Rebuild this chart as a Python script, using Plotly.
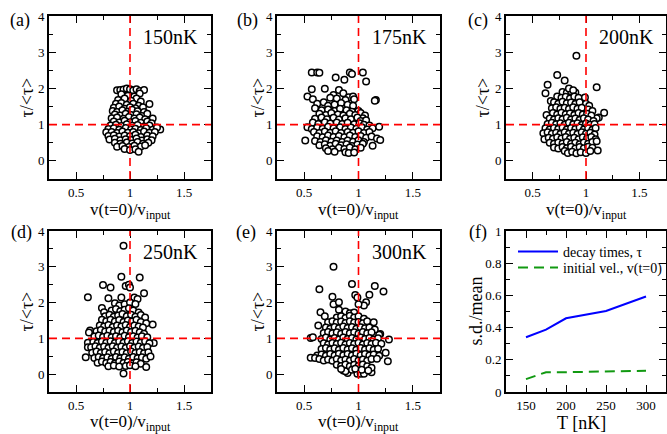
import plotly.graph_objects as go

# ---------------- data ----------------
PANEL_A = [(0.88,1.95),(0.91,1.96),(0.94,1.97),(0.97,2.0),(1.0,1.98),(1.03,1.95),(1.06,1.98),(1.09,1.93),(1.13,1.96),
 (0.92,1.84),(0.98,1.80),(1.04,1.78),(1.09,1.86),(1.06,1.72),(0.89,1.68),(0.95,1.72),(1.01,1.66),(1.1,1.64),
 (0.87,1.58),(0.92,1.60),(0.97,1.55),(1.03,1.58),(1.08,1.52),(1.18,1.57),(0.85,1.47),(0.9,1.50),(0.95,1.44),(1.0,1.48),(1.05,1.45),(1.12,1.48),
 (0.84,1.38),(0.88,1.35),(0.93,1.40),(0.98,1.36),(1.02,1.41),(1.07,1.37),(1.13,1.35),
 (0.86,1.28),(0.91,1.25),(0.96,1.30),(1.01,1.27),(1.06,1.29),(1.11,1.24),(1.16,1.30),
 (0.83,1.18),(0.88,1.20),(0.94,1.16),(0.99,1.21),(1.04,1.17),(1.09,1.20),(1.14,1.15),(1.21,1.17),
 (0.85,1.09),(0.9,1.06),(0.95,1.11),(1.0,1.07),(1.05,1.10),(1.1,1.05),(1.16,1.09),(1.2,1.04),
 (0.82,0.98),(0.87,1.00),(0.92,0.96),(0.97,1.01),(1.02,0.97),(1.07,0.99),(1.13,0.95),(1.18,0.98),
 (0.8,0.88),(0.85,0.90),(0.9,0.86),(0.96,0.91),(1.01,0.87),(1.05,0.89),(1.1,0.85),(1.15,0.90),(1.21,0.86),(1.28,0.87),(1.25,0.92),
 (0.78,0.79),(0.83,0.80),(0.88,0.77),(0.93,0.81),(0.98,0.78),(1.03,0.80),(1.08,0.76),(1.13,0.81),(1.18,0.78),(1.23,0.80),
 (0.8,0.69),(0.85,0.71),(0.9,0.67),(0.95,0.70),(1.0,0.68),(1.05,0.72),(1.1,0.66),(1.16,0.70),(1.21,0.68),
 (0.81,0.59),(0.86,0.61),(0.91,0.57),(0.96,0.60),(1.01,0.58),(1.06,0.62),(1.11,0.56),(1.16,0.60),(1.2,0.57),
 (0.86,0.50),(0.91,0.47),(0.97,0.51),(1.02,0.48),(1.07,0.52),(1.12,0.47),(1.17,0.50),
 (0.88,0.39),(0.93,0.41),(0.99,0.38),(1.04,0.42),(1.1,0.40),(1.14,0.43),(0.95,0.33),(1.0,0.30),(1.05,0.32),(1.08,0.25)]

PANEL_B = [(0.57,2.44),(0.62,2.44),(0.64,2.43),(0.79,2.30),(0.87,2.24),(0.92,2.44),(0.94,2.40),(1.04,2.44),(1.07,2.19),(1.16,1.68),(1.15,1.66),
 (0.57,1.98),(0.69,1.99),(0.77,1.82),(0.82,1.96),(0.86,1.87),(0.91,1.76),(0.95,1.78),(0.53,1.78),(0.58,1.70),(0.74,1.74),(0.80,1.72),(0.88,1.68),(0.96,1.70),
 (0.62,1.58),(0.68,1.62),(0.72,1.52),(0.78,1.56),(0.84,1.60),(0.9,1.55),(0.95,1.52),(1.0,1.38),
 (0.6,1.45),(0.66,1.40),(0.72,1.42),(0.78,1.38),(0.83,1.44),(0.89,1.40),(0.94,1.36),(1.02,1.32),(1.06,1.25),
 (0.64,1.30),(0.7,1.27),(0.75,1.32),(0.81,1.28),(0.86,1.25),(0.92,1.30),(0.97,1.27),(1.04,1.18),
 (0.6,1.16),(0.66,1.20),(0.71,1.15),(0.77,1.19),(0.82,1.14),(0.88,1.18),(0.93,1.15),(0.99,1.20),(1.02,1.10),(1.07,1.12),
 (0.58,1.06),(0.63,1.02),(0.69,1.07),(0.74,1.03),(0.8,1.06),(0.85,1.02),(0.9,1.05),(0.96,1.01),(1.01,1.04),(1.05,1.00),(1.1,0.98),
 (0.53,0.93),(0.57,0.88),(0.62,0.92),(0.67,0.89),(0.72,0.94),(0.77,0.90),(0.83,0.93),(0.88,0.88),(0.93,0.92),(0.98,0.89),(1.03,0.93),(1.08,0.87),(1.13,0.90),(1.19,0.94),
 (0.59,0.80),(0.64,0.77),(0.69,0.81),(0.74,0.78),(0.79,0.82),(0.84,0.77),(0.9,0.80),(0.95,0.78),(1.0,0.82),(1.05,0.77),(1.1,0.80),
 (0.62,0.68),(0.67,0.65),(0.72,0.70),(0.77,0.66),(0.82,0.69),(0.87,0.65),(0.92,0.70),(0.97,0.66),(1.02,0.69),(1.07,0.64),(1.12,0.67),(1.17,0.62),
 (0.51,0.56),(0.6,0.55),(0.65,0.52),(0.7,0.57),(0.75,0.53),(0.8,0.56),(0.85,0.52),(0.9,0.56),(0.95,0.53),(1.0,0.57),(1.05,0.52),(1.2,0.58),(1.13,0.42),
 (0.64,0.43),(0.69,0.46),(0.74,0.42),(0.79,0.47),(0.84,0.43),(0.89,0.46),(0.94,0.41),(0.99,0.45),(1.04,0.47),
 (0.7,0.35),(0.76,0.32),(0.82,0.36),(0.87,0.33),(0.92,0.37),(0.97,0.32),(1.02,0.36),
 (0.72,0.27),(0.78,0.25),(0.88,0.24),(0.91,0.22),(0.96,0.23)]

PANEL_C = [(0.91,2.90),(0.73,2.37),(0.80,2.22),(0.64,2.10),(1.10,2.03),(0.62,1.87),(0.67,1.65),(0.63,1.27),(1.17,1.33),(1.12,1.20),(1.1,1.18),
 (0.78,1.90),(0.82,1.88),(0.86,1.92),(0.9,1.89),(0.84,2.0),(0.88,1.95),
 (0.73,1.78),(0.77,1.74),(0.81,1.77),(0.85,1.72),(0.89,1.78),(0.93,1.74),(0.99,1.75),
 (0.7,1.62),(0.74,1.58),(0.78,1.63),(0.82,1.59),(0.86,1.61),(0.9,1.57),(0.94,1.62),(1.0,1.58),(1.03,1.52),
 (0.68,1.45),(0.72,1.48),(0.76,1.44),(0.8,1.47),(0.84,1.43),(0.88,1.48),(0.92,1.44),(0.96,1.47),(1.02,1.42),(1.06,1.38),
 (0.69,1.32),(0.73,1.28),(0.77,1.33),(0.81,1.29),(0.85,1.31),(0.89,1.27),(0.93,1.32),(0.97,1.28),(1.01,1.30),(1.05,1.25),
 (0.66,1.17),(0.7,1.14),(0.74,1.18),(0.78,1.15),(0.82,1.19),(0.86,1.14),(0.9,1.17),(0.94,1.13),(0.98,1.18),(1.02,1.14),(1.07,1.10),
 (0.64,1.02),(0.68,1.05),(0.72,1.01),(0.76,1.04),(0.8,1.00),(0.84,1.05),(0.88,1.01),(0.92,1.04),(0.96,0.99),(1.0,1.03),(1.04,1.00),(1.08,1.02),
 (0.62,0.90),(0.66,0.87),(0.7,0.91),(0.74,0.88),(0.78,0.92),(0.82,0.87),(0.86,0.91),(0.9,0.88),(0.94,0.92),(0.98,0.87),(1.02,0.90),(1.06,0.86),(1.09,0.91),
 (0.6,0.76),(0.64,0.79),(0.68,0.75),(0.72,0.78),(0.76,0.74),(0.8,0.79),(0.84,0.75),(0.88,0.78),(0.92,0.74),(0.96,0.79),(1.0,0.75),(1.04,0.78),(1.08,0.73),
 (0.61,0.60),(0.65,0.64),(0.69,0.61),(0.73,0.65),(0.77,0.62),(0.81,0.66),(0.85,0.61),(0.89,0.64),(0.93,0.60),(0.97,0.65),(1.01,0.62),(1.05,0.66),(1.09,0.60),
 (0.66,0.50),(0.7,0.47),(0.74,0.51),(0.78,0.48),(0.82,0.52),(0.86,0.47),(0.9,0.50),(0.94,0.46),(0.98,0.51),(1.02,0.47),(1.06,0.52),(1.1,0.54),
 (0.7,0.37),(0.74,0.34),(0.78,0.38),(0.82,0.35),(0.86,0.39),(0.9,0.34),(0.94,0.38),(0.98,0.35),(1.02,0.39),(1.06,0.36),(1.11,0.29),
 (0.8,0.27),(0.83,0.22),(0.87,0.25),(0.91,0.21),(0.95,0.24),(1.0,0.22),(1.04,0.27)]

PANEL_D = [(0.94,3.59),(0.92,2.72),(1.09,2.70),(0.75,2.49),(0.82,2.42),(0.96,2.46),(0.99,2.50),(1.0,2.42),(0.61,2.15),(0.8,2.12),(0.92,2.14),(1.04,2.14),(1.07,2.10),(1.13,2.26),
 (0.59,0.47),(0.94,0.02),(1.21,1.39),(1.22,0.87),(0.63,1.22),(0.62,1.16),(0.61,0.88),(0.61,0.75),(0.74,1.85),(0.76,1.73),
 (0.86,1.98),(0.9,1.92),(0.95,1.95),(1.0,2.0),(1.05,1.96),
 (0.83,1.78),(0.87,1.82),(0.91,1.76),(0.95,1.80),(0.99,1.84),(1.03,1.78),(1.08,1.72),
 (0.77,1.62),(0.81,1.66),(0.85,1.60),(0.89,1.64),(0.93,1.68),(0.97,1.62),(1.01,1.66),(1.05,1.60),(1.1,1.65),(1.14,1.58),
 (0.74,1.52),(0.78,1.48),(0.82,1.52),(0.86,1.47),(0.9,1.51),(0.94,1.46),(0.98,1.50),(1.02,1.47),(1.06,1.52),(1.1,1.46),(1.15,1.42),
 (0.72,1.36),(0.76,1.33),(0.8,1.37),(0.84,1.32),(0.88,1.36),(0.92,1.33),(0.96,1.37),(1.0,1.32),(1.04,1.36),(1.08,1.33),(1.12,1.30),
 (0.69,1.20),(0.73,1.23),(0.77,1.19),(0.81,1.22),(0.85,1.18),(0.89,1.21),(0.93,1.17),(0.97,1.22),(1.01,1.18),(1.05,1.21),(1.09,1.17),(1.13,1.13),
 (0.67,1.05),(0.71,1.08),(0.75,1.04),(0.79,1.07),(0.83,1.03),(0.87,1.06),(0.91,1.02),(0.95,1.07),(0.99,1.03),(1.03,1.06),(1.07,1.02),(1.11,1.06),(1.16,1.03),
 (0.66,0.90),(0.7,0.87),(0.74,0.91),(0.78,0.88),(0.82,0.92),(0.86,0.87),(0.9,0.91),(0.94,0.88),(0.98,0.92),(1.02,0.87),(1.06,0.91),(1.1,0.88),(1.14,0.92),(1.18,0.86),
 (0.64,0.75),(0.68,0.78),(0.72,0.74),(0.76,0.77),(0.8,0.73),(0.84,0.78),(0.88,0.74),(0.92,0.77),(0.96,0.73),(1.0,0.78),(1.04,0.74),(1.08,0.77),(1.12,0.73),(1.16,0.76),
 (0.65,0.60),(0.69,0.63),(0.73,0.59),(0.77,0.62),(0.81,0.58),(0.85,0.63),(0.89,0.59),(0.93,0.62),(0.97,0.58),(1.01,0.63),(1.05,0.59),(1.09,0.62),(1.13,0.58),(1.17,0.61),
 (0.67,0.45),(0.71,0.48),(0.75,0.44),(0.79,0.47),(0.83,0.43),(0.87,0.48),(0.91,0.44),(0.95,0.47),(0.99,0.43),(1.03,0.48),(1.07,0.44),(1.11,0.47),(1.15,0.43),(1.19,0.49),
 (0.7,0.32),(0.74,0.35),(0.78,0.31),(0.82,0.34),(0.86,0.30),(0.9,0.35),(0.94,0.31),(0.98,0.34),(1.02,0.30),(1.06,0.33),(1.1,0.29),
 (0.8,0.22),(0.85,0.24),(0.9,0.21),(0.96,0.23),(1.0,0.25),(1.05,0.22),(1.15,0.20)]

PANEL_E = [(0.77,3.0),(0.94,2.52),(0.64,2.37),(1.15,2.46),(1.23,2.31),(0.76,2.16),(0.77,1.95),(0.82,2.01),(0.97,2.21),(0.99,2.14),(1.1,2.22),(1.07,2.01),(1.05,1.92),(1.0,1.95),
 (0.65,1.73),(0.69,1.62),(0.63,1.36),(0.56,1.01),(0.58,1.03),(0.56,0.46),(1.28,0.97),(1.25,0.60),(1.27,0.36),(1.2,1.12),(1.19,1.10),
 (0.99,0.01),(1.02,0.01),(1.05,0.01),(0.9,0.03),(0.86,0.10),(0.88,0.08),(1.12,0.05),
 (0.82,1.80),(0.88,1.75),(0.92,1.70),(0.96,1.72),
 (0.8,1.58),(0.84,1.62),(0.88,1.57),(0.92,1.63),(0.96,1.58),(1.0,1.62),(1.05,1.55),
 (0.72,1.45),(0.76,1.48),(0.8,1.44),(0.84,1.47),(0.88,1.43),(0.92,1.48),(0.96,1.44),(1.0,1.46),(1.04,1.42),(1.08,1.48),(1.14,1.45),
 (0.7,1.30),(0.74,1.27),(0.78,1.32),(0.82,1.28),(0.86,1.33),(0.9,1.29),(0.94,1.32),(0.98,1.27),(1.02,1.31),(1.06,1.28),(1.1,1.30),(1.15,1.25),
 (0.68,1.15),(0.72,1.18),(0.76,1.14),(0.8,1.17),(0.84,1.13),(0.88,1.18),(0.92,1.14),(0.96,1.17),(1.0,1.13),(1.04,1.18),(1.08,1.14),(1.12,1.17),
 (0.66,0.98),(0.7,1.02),(0.74,0.97),(0.78,1.01),(0.82,0.97),(0.86,1.02),(0.9,0.98),(0.94,1.01),(0.98,0.97),(1.02,1.02),(1.06,0.98),(1.1,1.01),(1.14,0.97),(1.18,1.00),
 (0.68,0.86),(0.72,0.83),(0.76,0.87),(0.8,0.84),(0.84,0.88),(0.88,0.83),(0.92,0.87),(0.96,0.84),(1.0,0.88),(1.04,0.83),(1.08,0.87),(1.12,0.84),(1.16,0.88),(1.21,0.85),
 (0.66,0.70),(0.7,0.73),(0.74,0.69),(0.78,0.72),(0.82,0.68),(0.86,0.73),(0.9,0.69),(0.94,0.72),(0.98,0.68),(1.02,0.73),(1.06,0.69),(1.1,0.72),(1.14,0.68),(1.18,0.71),
 (0.62,0.52),(0.66,0.55),(0.7,0.51),(0.74,0.56),(0.78,0.52),(0.82,0.57),(0.86,0.53),(0.9,0.56),(0.94,0.52),(0.98,0.57),(1.02,0.53),(1.06,0.56),(1.1,0.52),(1.14,0.55),(1.19,0.51),
 (0.6,0.45),(0.64,0.42),(0.68,0.38),(0.72,0.41),(0.76,0.37),(0.8,0.42),(0.84,0.38),(0.88,0.41),(0.92,0.37),(0.96,0.42),(1.0,0.38),(1.04,0.41),(1.08,0.37),(1.12,0.42),(1.17,0.43),
 (0.8,0.26),(0.84,0.23),(0.88,0.27),(0.92,0.22),(0.96,0.26),(1.0,0.23),(1.04,0.27),(1.08,0.22),(1.12,0.18),
 (0.84,0.14),(0.94,0.12),(0.97,0.15),(1.03,0.12),(1.09,0.10)]

PANELS = [PANEL_A, PANEL_B, PANEL_C, PANEL_D, PANEL_E]
PANEL_TAGS = ["(a)", "(b)", "(c)", "(d)", "(e)", "(f)"]
TEMP_LABELS = ["150nK", "175nK", "200nK", "250nK", "300nK"]
X_TITLE = "v(t=0)/v<sub>input</sub>"
Y_TITLE = "τ/&lt;τ&gt;"
F_X_TITLE = "T [nK]"
F_Y_TITLE = "s.d./mean"

T_NK = [150, 175, 200, 250, 300]
SD_DECAY = [0.34, 0.387, 0.458, 0.503, 0.593]
SD_VEL = [0.08, 0.123, 0.123, 0.128, 0.132]
SERIES_NAMES = ["decay times, τ", "initial vel., v(t=0)"]

REF_V = 1.0
REF_TAU = 1.0

# ---------------- layout geometry (pixels) ----------------
W, H = 667, 434
COLS = [(49, 211), (277, 440), (506, 666)]
ROWS = [(16, 179), (231, 392)]
XT_GAP = [19, 18]
FONT = "Liberation Serif"

def px_x(v):
    return v / W

def px_y(v):
    return 1 - v / H

fig = go.Figure()
layout = dict(width=W, height=H, margin=dict(l=0, r=0, t=0, b=0, autoexpand=False),
              paper_bgcolor="white", plot_bgcolor="white",
              font=dict(family=FONT, size=13, color="black"),
              showlegend=True)
annotations = []
shapes = []

def axis_common():
    return dict(showline=True, linecolor="black", linewidth=2, mirror="allticks",
                ticks="inside", ticklen=7, tickwidth=1.3, tickcolor="black",
                showgrid=False, zeroline=False, automargin=False,
                tickfont=dict(family=FONT, size=13, color="black"))

def title_ann(text, x, y, angle=0, yanchor="middle", size=18):
    return dict(text=text, xref="paper", yref="paper", x=px_x(x), y=px_y(y), textangle=angle,
                xanchor="center", yanchor=yanchor, showarrow=False,
                font=dict(family=FONT, size=size, color="black"))

YT_X = [26, 257, 482]
for i in range(6):
    r, c = divmod(i, 3)
    n = i + 1
    xa = "xaxis" if n == 1 else f"xaxis{n}"
    ya = "yaxis" if n == 1 else f"yaxis{n}"
    xr = "x" if n == 1 else f"x{n}"
    yr = "y" if n == 1 else f"y{n}"
    xd = axis_common(); yd = axis_common()
    xd.update(domain=[px_x(COLS[c][0]), px_x(COLS[c][1])], anchor=yr)
    yd.update(domain=[px_y(ROWS[r][1]), px_y(ROWS[r][0])], anchor=xr)
    xmid = (COLS[c][0] + COLS[c][1]) / 2
    ymid = (ROWS[r][0] + ROWS[r][1]) / 2
    if i < 5:
        xd.update(range=[0.25, 1.75], tickvals=[0.5, 1, 1.5], ticktext=["0.5", "1", "1.5"],
                  minor=dict(dtick=0.25, tick0=0, ticks="inside", ticklen=4, tickcolor="black"))
        yd.update(range=[-0.5, 4], tickvals=[0, 1, 2, 3, 4],
                  minor=dict(dtick=0.5, tick0=0, ticks="inside", ticklen=4, tickcolor="black"))
        annotations.append(title_ann(X_TITLE, xmid, ROWS[r][1] + XT_GAP[r], yanchor="top", size=17))
        annotations.append(title_ann(Y_TITLE, YT_X[c], ymid, angle=-90))
        pts = PANELS[i]
        fig.add_trace(go.Scatter(x=[p[0] for p in pts], y=[p[1] for p in pts], mode="markers",
                                 xaxis=xr, yaxis=yr, showlegend=False,
                                 marker=dict(symbol="circle", size=6.5, color="white",
                                             line=dict(color="black", width=1.5))))
        shapes.append(dict(type="line", xref=xr, yref=f"{yr} domain", x0=REF_V, x1=REF_V, y0=0, y1=1,
                           line=dict(color="red", width=1.6, dash="8px,5px"), layer="above"))
        shapes.append(dict(type="line", xref=f"{xr} domain", yref=yr, x0=0, x1=1, y0=REF_TAU, y1=REF_TAU,
                           line=dict(color="red", width=1.6, dash="8px,5px"), layer="above"))
        annotations.append(dict(text=TEMP_LABELS[i], xref=f"{xr} domain", yref=f"{yr} domain",
                                x=0.935, y=0.87, xanchor="right", yanchor="middle", showarrow=False,
                                font=dict(family=FONT, size=20, color="black")))
    else:
        xd.update(range=[125, 325], tickvals=[150, 200, 250, 300],
                  minor=dict(dtick=25, tick0=0, ticks="inside", ticklen=4, tickcolor="black"))
        yd.update(range=[0, 1], tickvals=[0, 0.2, 0.4, 0.6, 0.8, 1], ticktext=["0", "0.2", "0.4", "0.6", "0.8", "1"],
                  minor=dict(dtick=0.1, tick0=0, ticks="inside", ticklen=4, tickcolor="black"))
        annotations.append(title_ann(F_X_TITLE, 581, ROWS[r][1] + 19, yanchor="top"))
        annotations.append(title_ann(F_Y_TITLE, 475, ymid, angle=-90))
        fig.add_trace(go.Scatter(x=T_NK, y=SD_DECAY, mode="lines", name=SERIES_NAMES[0],
                                 xaxis=xr, yaxis=yr, legend="legend",
                                 line=dict(color="#0000ff", width=2)))
        fig.add_trace(go.Scatter(x=T_NK, y=SD_VEL, mode="lines", name=SERIES_NAMES[1],
                                 xaxis=xr, yaxis=yr, legend="legend2",
                                 line=dict(color="#119911", width=2, dash="10px,6px")))
    layout[xa] = xd
    layout[ya] = yd

# panel tags
TAG_POS = [(20, 20), (247, 20), (478, 20), (21, 233), (246, 233), (478, 233)]
for tag, (px, py) in zip(PANEL_TAGS, TAG_POS):
    annotations.append(dict(text=tag, xref="paper", yref="paper", x=px_x(px), y=px_y(py),
                            xanchor="center", yanchor="middle", showarrow=False,
                            font=dict(family=FONT, size=18, color="black")))

layout["annotations"] = annotations
layout["shapes"] = shapes
leg = dict(xanchor="left", yanchor="middle", bgcolor="rgba(0,0,0,0)",
           font=dict(family=FONT, size=14, color="black"), itemwidth=40)
layout["legend"] = dict(leg, x=px_x(513), y=px_y(252))
layout["legend2"] = dict(leg, x=px_x(513), y=px_y(268))
fig.update_layout(**layout)
fig.write_html("out.html", config={"displayModeBar": False},
               post_script="document.body.style.margin='0';document.body.style.padding='0';document.body.style.overflow='hidden';")
